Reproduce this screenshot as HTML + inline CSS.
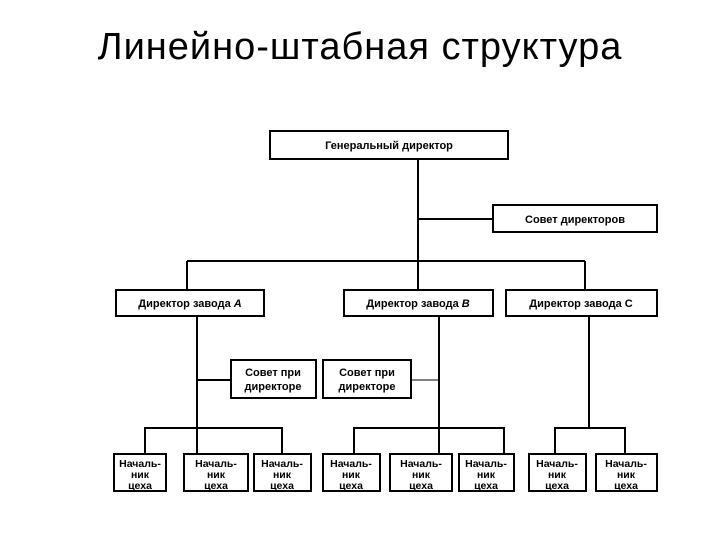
<!DOCTYPE html>
<html><head><meta charset="utf-8"><style>
body{margin:0;width:720px;height:540px;background:#fff;position:relative;overflow:hidden;font-family:"Liberation Sans",sans-serif}
.t{position:absolute;left:0;width:720px;top:26px;text-align:center;font-size:38px;letter-spacing:1px;color:#000}
svg{position:absolute;left:0;top:0}
</style></head><body>
<div class="t">Линейно-штабная структура</div>
<svg width="720" height="540" font-family="Liberation Sans, sans-serif" font-size="11" font-weight="bold" text-anchor="middle">
<g fill="none" stroke="#000" stroke-width="2">
<line x1="418" y1="159" x2="418" y2="290"/>
<line x1="418" y1="219" x2="493" y2="219"/>
<line x1="187" y1="261" x2="585" y2="261"/>
<line x1="187" y1="261" x2="187" y2="290"/>
<line x1="585" y1="261" x2="585" y2="290"/>
<line x1="197" y1="316" x2="197" y2="454"/>
<line x1="439" y1="316" x2="439" y2="454"/>
<line x1="589" y1="316" x2="589" y2="428"/>
<line x1="197" y1="380" x2="231" y2="380"/>
<line x1="411" y1="380" x2="439" y2="380" stroke-width="1"/>
<polyline points="145,454 145,428 282,428 282,454"/>
<polyline points="354,454 354,428 504,428 504,454"/>
<polyline points="555,454 555,428 625,428 625,454"/>
<rect x="270" y="131" width="238" height="28"/>
<rect x="493" y="205" width="164" height="27"/>
<rect x="116" y="290" width="148" height="26"/>
<rect x="344" y="290" width="149" height="26"/>
<rect x="506" y="290" width="151" height="26"/>
<rect x="231" y="360" width="85" height="38"/>
<rect x="323" y="360" width="88" height="38"/>
<rect x="114" y="454" width="52" height="37"/>
<rect x="184" y="454" width="64" height="37"/>
<rect x="254" y="454" width="57" height="37"/>
<rect x="323" y="454" width="57" height="37"/>
<rect x="390" y="454" width="62" height="37"/>
<rect x="459" y="454" width="55" height="37"/>
<rect x="529" y="454" width="57" height="37"/>
<rect x="596" y="454" width="61" height="37"/>
</g>
<text x="389" y="149">Генеральный директор</text>
<text x="575" y="223">Совет директоров</text>
<text x="190" y="307">Директор завода <tspan font-style="italic">А</tspan></text>
<text x="418" y="307">Директор завода <tspan font-style="italic">В</tspan></text>
<text x="581" y="307">Директор завода С</text>
<text x="273" y="376">Совет при</text><text x="273" y="390">директоре</text>
<text x="367" y="376">Совет при</text><text x="367" y="390">директоре</text>
<g font-size="10.5">
<text x="140" y="467">Началь-</text><text x="140" y="478">ник</text><text x="140" y="489">цеха</text>
<text x="216" y="467">Началь-</text><text x="216" y="478">ник</text><text x="216" y="489">цеха</text>
<text x="282" y="467">Началь-</text><text x="282" y="478">ник</text><text x="282" y="489">цеха</text>
<text x="351" y="467">Началь-</text><text x="351" y="478">ник</text><text x="351" y="489">цеха</text>
<text x="421" y="467">Началь-</text><text x="421" y="478">ник</text><text x="421" y="489">цеха</text>
<text x="486" y="467">Началь-</text><text x="486" y="478">ник</text><text x="486" y="489">цеха</text>
<text x="557" y="467">Началь-</text><text x="557" y="478">ник</text><text x="557" y="489">цеха</text>
<text x="626" y="467">Началь-</text><text x="626" y="478">ник</text><text x="626" y="489">цеха</text>
</g>
</svg>
</body></html>
